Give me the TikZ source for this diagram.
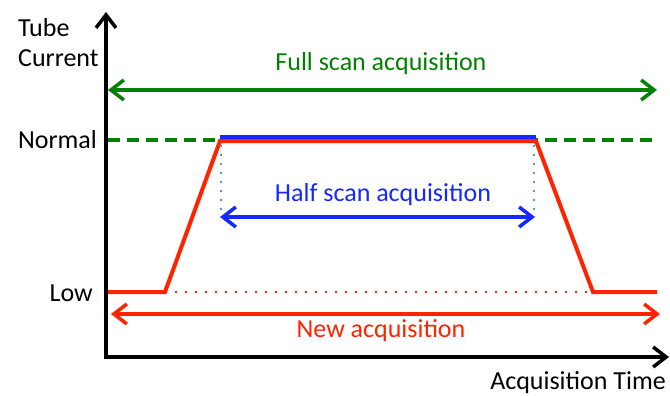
\documentclass[tikz,border=0pt]{standalone}
\usepackage{fontspec}
\setmainfont{Carlito}
\usetikzlibrary{arrows.meta}
\definecolor{cgreen}{RGB}{0,130,0}
\definecolor{cblue}{RGB}{20,40,255}
\definecolor{cred}{RGB}{255,35,0}
\definecolor{clblue}{RGB}{90,150,215}
\begin{document}
\begin{tikzpicture}[x=1pt,y=-1pt,
  lbl/.style={font=\fontsize{26}{30}\selectfont,inner sep=0pt},
  tip/.tip={Straight Barb[length=13pt,width=20pt,line width=3.5pt]},
  axis/.style={line width=4pt,-tip},
  dbl/.style={line width=4pt,tip-tip},
  curve/.style={line width=4pt,cred,line join=miter}]
\useasboundingbox (0,0) rectangle (670,396);
% axes
\coordinate (O) at (106,357);
\coordinate (Ytop) at (106,12);
\coordinate (Xend) at (669,357);
\draw[axis,line cap=rect] (O) -- (Ytop);
\draw[axis] (O) -- (Xend);
% labels
\node[lbl,anchor=west,align=left] (tube) at (18,43) {Tube\\Current};
\node[lbl,anchor=east] (normal) at (97,140) {Normal};
\node[lbl,anchor=east] (low) at (93,293) {Low};
\node[lbl,anchor=east] (time) at (666,383) {Acquisition Time};
% full scan
\coordinate (fa) at (108,90);
\coordinate (fb) at (657,90);
\draw[dbl,cgreen] (fa) -- (fb);
\node[lbl,text=cgreen] (full) at (381,64) {Full scan acquisition};
\coordinate (na) at (108,140);
\coordinate (nb) at (657,140);
\draw[cgreen,line width=3.5pt,dash pattern=on 12pt off 7pt] (na) -- (nb);
% curve
\coordinate (p0) at (108,292);
\coordinate (p1) at (165,292);
\coordinate (p2) at (220,141);
\coordinate (p3) at (536,141);
\coordinate (p4) at (593,292);
\coordinate (p5) at (657,292);
\draw[cred,line width=1.5pt,dash pattern=on 2pt off 8pt] (p1) -- (p4);
\draw[curve] (p0) -- (p1) -- (p2) -- (p3) -- (p4) -- (p5);
\coordinate (b1) at (220,137);
\coordinate (b2) at (536,137);
\draw[cblue,line width=4pt] (b1) -- (b2);
% half scan
\coordinate (h1t) at (221,145);
\coordinate (h1b) at (221,214);
\coordinate (h2t) at (534,145);
\coordinate (h2b) at (534,214);
\draw[clblue,line width=2pt,dash pattern=on 2pt off 7pt] (h1t) -- (h1b);
\draw[clblue,line width=2pt,dash pattern=on 2pt off 7pt] (h2t) -- (h2b);
\coordinate (ha) at (220,217);
\coordinate (hb) at (535,217);
\draw[dbl,cblue] (ha) -- (hb);
\node[lbl,text=cblue] (half) at (383,195) {Half scan acquisition};
% new acquisition
\coordinate (ra) at (111,314);
\coordinate (rb) at (660,314);
\draw[dbl,cred] (ra) -- (rb);
\node[lbl,text=cred] (new) at (381,331) {New acquisition};
\end{tikzpicture}
\end{document}
